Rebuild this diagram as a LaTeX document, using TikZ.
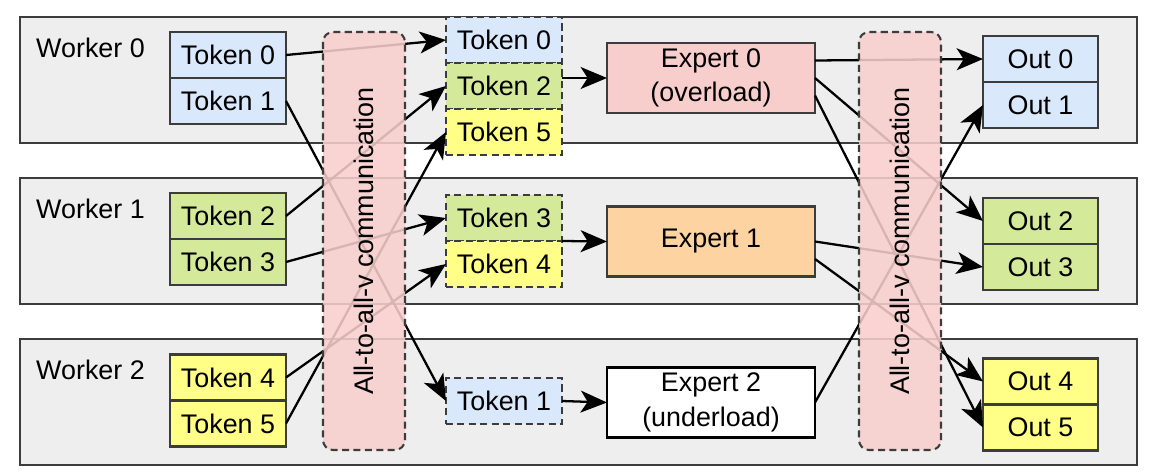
\documentclass[tikz,border=0pt]{standalone}
\usepackage{fontspec}
\setmainfont{Liberation Sans}
\usetikzlibrary{arrows.meta}
\definecolor{tblue}{HTML}{DAE8FC}
\definecolor{tgreen}{HTML}{D5E99B}
\definecolor{tyellow}{HTML}{FFFF88}
\definecolor{tpink}{HTML}{F8CECC}
\definecolor{torange}{HTML}{FCD3A1}
\definecolor{wgray}{HTML}{EEEEEE}
\definecolor{edgegray}{HTML}{3C3C3C}

\begin{document}
\begin{tikzpicture}[font=\fontsize{15.3}{19.5}\selectfont,
  worker/.style={draw=edgegray,line width=1.5pt,fill=wgray},
  tok/.style={draw=edgegray,line width=1.7pt,minimum width=2.32cm,minimum height=0.92cm,inner sep=0pt,outer sep=0pt},
  mtok/.style={tok,line width=1.3pt,dash pattern=on 4pt off 2.5pt},
  expert/.style={tok,minimum width=4.16cm,minimum height=1.4cm,align=center},
  outbox/.style={tok,minimum width=2.3cm},
  comm/.style={draw=edgegray,line width=1.2pt,dash pattern=on 4pt off 2.5pt,rounded corners=0.2cm,fill=tpink,fill opacity=0.87,text opacity=1,minimum width=8.36cm,minimum height=1.64cm,rotate=90},
  link/.style={line width=1.3pt,-{Stealth[length=15pt,width=12.5pt,inset=4pt]}}]
\useasboundingbox (0,0) rectangle (23.28,-9.52);
\draw[worker] (0.40,-0.34) rectangle (22.74,-2.86);
\draw[worker] (0.40,-3.56) rectangle (22.74,-6.08);
\draw[worker] (0.40,-6.78) rectangle (22.74,-9.30);
\node[anchor=west] (w0) at (0.60,-0.96) {Worker 0};
\node[anchor=west] (w1) at (0.60,-4.18) {Worker 1};
\node[anchor=west] (w2) at (0.60,-7.40) {Worker 2};

\node[tok,fill=tblue] (t0) at (4.56,-1.10) {Token 0};
\node[tok,fill=tblue] (t1) at (4.56,-2.02) {Token 1};
\node[tok,fill=tgreen] (t2) at (4.56,-4.32) {Token 2};
\node[tok,fill=tgreen] (t3) at (4.56,-5.24) {Token 3};
\node[tok,fill=tyellow] (t4) at (4.56,-7.55) {Token 4};
\node[tok,fill=tyellow] (t5) at (4.56,-8.47) {Token 5};

\node[mtok,fill=tblue] (m0) at (10.08,-0.80) {Token 0};
\node[mtok,fill=tgreen] (m2) at (10.08,-1.72) {Token 2};
\node[mtok,fill=tyellow] (m5) at (10.08,-2.64) {Token 5};
\node[mtok,fill=tgreen] (m3) at (10.08,-4.36) {Token 3};
\node[mtok,fill=tyellow] (m4) at (10.08,-5.28) {Token 4};
\node[mtok,fill=tblue] (m1) at (10.08,-8.02) {Token 1};

\node[expert,fill=tpink] (e0) at (14.22,-1.56) {Expert 0\\(overload)};
\node[expert,fill=torange] (e1) at (14.22,-4.83) {Expert 1};
\node[expert,fill=white,draw=black] (e2) at (14.22,-8.05) {Expert 2\\(underload)};

\node[outbox,fill=tblue] (o0) at (20.81,-1.18) {Out 0};
\node[outbox,fill=tblue] (o1) at (20.81,-2.10) {Out 1};
\node[outbox,fill=tgreen] (o2) at (20.81,-4.42) {Out 2};
\node[outbox,fill=tgreen] (o3) at (20.81,-5.34) {Out 3};
\node[outbox,fill=tyellow] (o4) at (20.81,-7.63) {Out 4};
\node[outbox,fill=tyellow] (o5) at (20.81,-8.55) {Out 5};

\draw[link] (t0.east) -- (m0.west);
\draw[link] (t1.east) -- (m1.west);
\draw[link] (t2.east) -- (m2.west);
\draw[link] (t3.east) -- (m3.west);
\draw[link] (t4.east) -- (m4.west);
\draw[link] (t5.east) -- (m5.west);
\draw[link] (m2.east |- e0.west) -- (e0.west);
\draw[link] (m3.south east) -- (e1.west);
\draw[link] (m1.east) -- (e2.west);
\draw[link] ([yshift=.35cm]e0.east) -- (o0.west);
\draw[link] (e0.east) -- (o2.west);
\draw[link] ([yshift=-.35cm]e0.east) -- (o5.west);
\draw[link] (e1.east) -- (o3.west);
\draw[link] ([yshift=-.35cm]e1.east) -- (o4.west);
\draw[link] (e2.east) -- (o1.west);

\node[comm] (c0) at (7.28,-4.82) {All-to-all-v communication};
\node[comm] (c1) at (18.00,-4.82) {All-to-all-v communication};
\end{tikzpicture}
\end{document}
